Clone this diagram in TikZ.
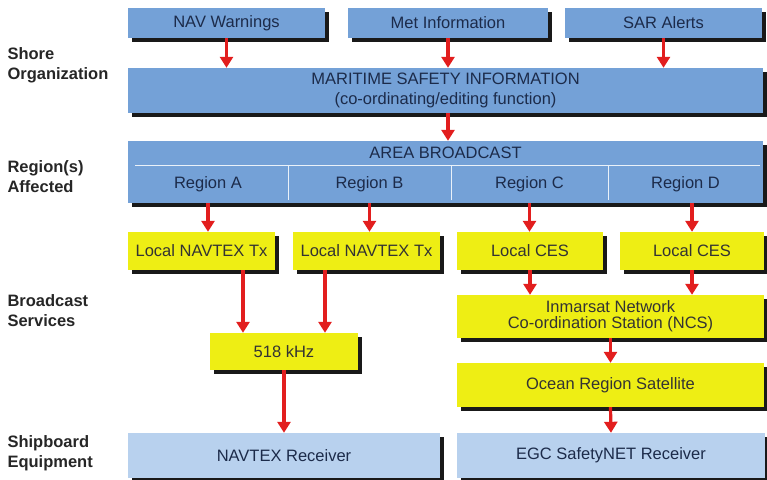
\documentclass[tikz,border=0pt]{standalone}
\usepackage{fontspec}
\setmainfont{Liberation Sans}
\usetikzlibrary{arrows.meta}

\definecolor{msiblue}{RGB}{116,161,215}
\definecolor{rxblue}{RGB}{184,209,238}
\definecolor{txyellow}{RGB}{238,238,20}
\definecolor{navytext}{RGB}{28,43,74}
\definecolor{arrowred}{RGB}{226,30,30}

\begin{document}
\begin{tikzpicture}[x=1pt,y=-1pt,
    box/.style={inner sep=0pt,align=center,font=\fontsize{16.5}{16}\selectfont},
    msi/.style={box,fill=msiblue,text=navytext},
    tx/.style={box,fill=txyellow,text=black!80},
    rx/.style={box,fill=rxblue,text=navytext},
    cell/.style={inner sep=0pt,text=navytext,font=\fontsize{16.5}{16}\selectfont},
    side/.style={anchor=west,align=left,text=black!85,
      font=\bfseries\fontsize{16.5}{20}\selectfont},
    shadowbox/.style={fill=black!90},
    arr/.style={draw=arrowred,line width=3.2pt,-{Triangle[width=13pt,length=11pt]}}]
  \useasboundingbox (0,0) rectangle (767,479);

  % hard shadows, offset down and right of each box
  \foreach \xa/\ya/\xb/\yb in {128/8/325/38, 348/8/548/38, 565/8/762/38,
      128/68/763/113, 128/141/763/203,
      128/232/275/270, 293/232/440/270, 457/232/603/270, 620/232/764/270,
      210/333/358/370, 457/295/764/338, 457/363/764/407,
      128/433/440/478, 457/433/765/478}
    \fill[shadowbox] (\xa+4,\ya+4) rectangle (\xb+4,\yb+4);

  % row labels
  \node[side] (shore) at (4,65) {Shore\\Organization};
  \node[side] (affected) at (4,177) {Region(s)\\Affected};
  \node[side] (services) at (4,311) {Broadcast\\Services};
  \node[side] (shipboard) at (4,453) {Shipboard\\Equipment};

  % shore side
  \node[msi,minimum width=197pt,minimum height=30pt] (nav) at (226.5,23) {NAV Warnings};
  \node[msi,minimum width=200pt,minimum height=30pt] (met) at (448,23) {Met Information};
  \node[msi,minimum width=197pt,minimum height=30pt] (sar) at (663.5,23) {SAR Alerts};
  \node[msi,minimum width=635pt,minimum height=45pt,font=\fontsize{16.5}{20}\selectfont]
    (safety) at (445.5,90.5) {MARITIME SAFETY INFORMATION\\(co-ordinating/editing function)};

  % area broadcast split into regions
  \node[msi,minimum width=635pt,minimum height=62pt] (area) at (445.5,172) {};
  \node[cell] (areatitle) at (445.5,153) {AREA BROADCAST};
  \draw[white!85!msiblue,line width=0.8pt] (135,165) -- (760,165)
    (288,165) -- (288,200) (451,165) -- (451,200) (608,165) -- (608,200);
  \node[cell,minimum width=160pt,minimum height=38pt] (regA) at (208,184) {Region A};
  \node[cell,minimum width=163pt,minimum height=38pt] (regB) at (369.5,184) {Region B};
  \node[cell,minimum width=157pt,minimum height=38pt] (regC) at (529.5,184) {Region C};
  \node[cell,minimum width=155pt,minimum height=38pt] (regD) at (685.5,184) {Region D};

  % broadcast services
  \node[tx,minimum width=147pt,minimum height=38pt] (txA) at (201.5,251) {Local NAVTEX Tx};
  \node[tx,minimum width=147pt,minimum height=38pt] (txB) at (366.5,251) {Local NAVTEX Tx};
  \node[tx,minimum width=146pt,minimum height=38pt] (cesC) at (530,251) {Local CES};
  \node[tx,minimum width=144pt,minimum height=38pt] (cesD) at (692,251) {Local CES};
  \node[tx,minimum width=148pt,minimum height=37pt] (khz) at (284,351.5) {518 kHz};
  \node[tx,minimum width=307pt,minimum height=43pt] (ncs) at (610.5,316.5)
    {Inmarsat Network\\Co-ordination Station (NCS)};
  \node[tx,minimum width=307pt,minimum height=44pt] (sat) at (610.5,385) {Ocean Region Satellite};

  % shipboard equipment
  \node[rx,minimum width=312pt,minimum height=45pt] (navtex) at (284,455.5) {NAVTEX Receiver};
  \node[rx,minimum width=308pt,minimum height=45pt] (egc) at (611,455.5) {EGC SafetyNET Receiver};

  \coordinate (inA) at ([xshift=-41pt]khz.north);
  \coordinate (inB) at ([xshift=41pt]khz.north);

  % flow
  \draw[arr] (nav.south) -- (nav.south |- safety.north);
  \draw[arr] (met.south) -- (met.south |- safety.north);
  \draw[arr] (sar.south) -- (sar.south |- safety.north);
  \draw[arr] (met.south |- safety.south) -- (met.south |- area.north);
  \draw[arr] (regA.south) -- (regA.south |- txA.north);
  \draw[arr] (regB.south) -- (regB.south |- txB.north);
  \draw[arr] (regC.south) -- (regC.south |- cesC.north);
  \draw[arr] (cesD.north |- area.south) -- (cesD.north);
  \draw[arr] (inA |- txA.south) -- (inA);
  \draw[arr] (inB |- txB.south) -- (inB);
  \draw[arr] (khz.south) -- (navtex.north);
  \draw[arr] (cesC.south) -- (cesC.south |- ncs.north);
  \draw[arr] (cesD.south) -- (cesD.south |- ncs.north);
  \draw[arr] (ncs.south) -- (sat.north);
  \draw[arr] (sat.south) -- (egc.north);
\end{tikzpicture}
\end{document}
